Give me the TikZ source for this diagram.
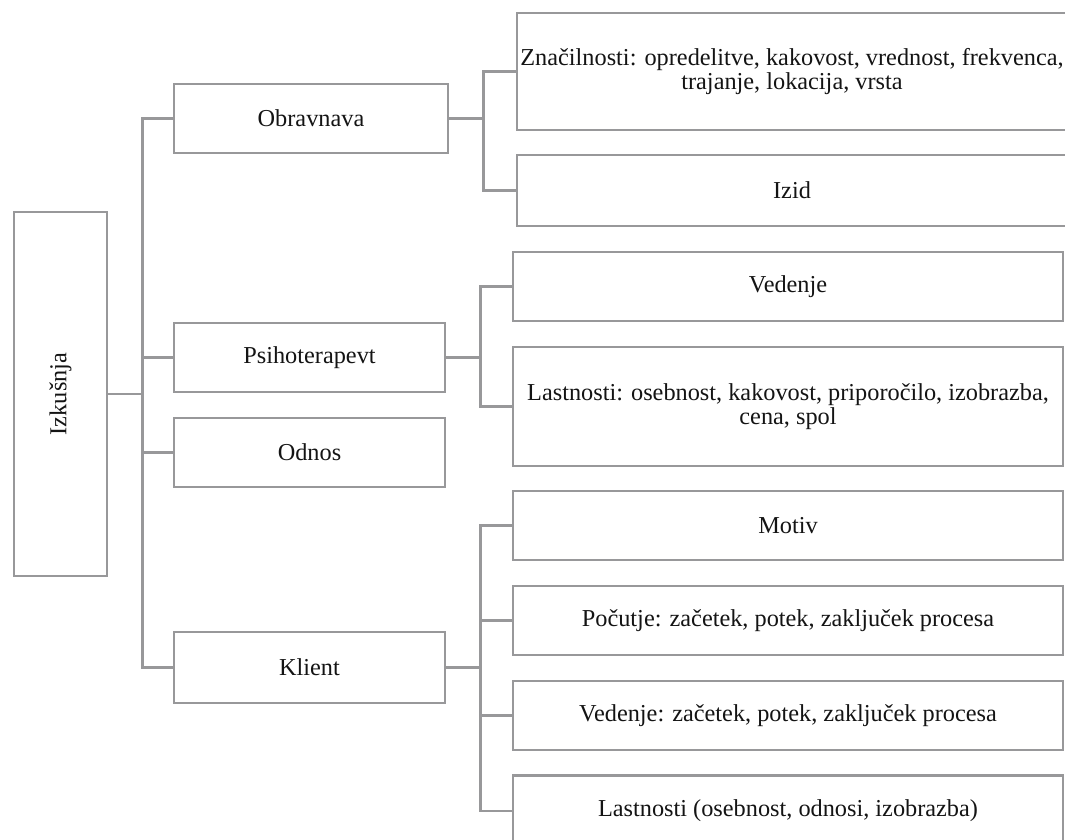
\documentclass[tikz,border=0pt]{standalone}
\usepackage{fontspec}
\usepackage{graphicx}
\setmainfont{Liberation Serif}
\definecolor{linegray}{RGB}{152,152,154}
\definecolor{inkblack}{RGB}{20,20,20}
\begin{document}
\begin{tikzpicture}[x=1pt,y=-1pt,
  box/.style={draw=linegray, line width=2.5pt, inner sep=0pt, align=center,
    text=inkblack, font=\fontsize{24.3}{24.5}\selectfont},
  link/.style={draw=linegray, line width=2.5pt}]
\useasboundingbox (0,0) rectangle (1065,839);
\fill[white] (0,0) rectangle (1065,839);
\clip (0,0) rectangle (1065,839);

% root
\node[box, minimum width=93pt, minimum height=364pt] (izk) at (60.5,394) {\rotatebox{90}{Izkušnja}};

% first level
\node[box, minimum width=274pt, minimum height=69pt] (obr) at (311,118.5) {Obravnava};
\node[box, minimum width=271pt, minimum height=69pt] (psi) at (309.5,357.5) {Psihoterapevt};
\node[box, minimum width=271pt, minimum height=69pt] (odn) at (309.5,452.5) {Odnos};
\node[box, minimum width=271pt, minimum height=71pt] (kli) at (309.5,667.5) {Klient};

% second level: Obravnava
\node[box, minimum width=550pt, minimum height=117pt] (zna) at (792,71.5)
  {Značilnosti: opredelitve, kakovost, vrednost, frekvenca,\\ trajanje, lokacija, vrsta};
\node[box, minimum width=550pt, minimum height=71pt] (izd) at (792,190.5) {Izid};

% second level: Psihoterapevt
\node[box, minimum width=550pt, minimum height=69pt] (ved) at (788,286.5) {Vedenje};
\node[box, minimum width=550pt, minimum height=119pt] (las) at (788,406.5)
  {Lastnosti: osebnost, kakovost, priporočilo, izobrazba,\\ cena, spol};

% second level: Klient
\node[box, minimum width=550pt, minimum height=69pt] (mot) at (788,525.5) {Motiv};
\node[box, minimum width=550pt, minimum height=69pt] (poc) at (788,620.5) {Počutje: začetek, potek, zaključek procesa};
\node[box, minimum width=550pt, minimum height=69pt] (vdn) at (788,715.5) {Vedenje: začetek, potek, zaključek procesa};
\node[box, minimum width=550pt, minimum height=71pt] (la2) at (788,811) {Lastnosti (osebnost, odnosi, izobrazba)};

% connectors
\foreach \c in {obr,psi,odn,kli}
  \draw[link] (izk.east) -- ++(34,0) |- (\c.west);
\foreach \c in {zna,izd}
  \draw[link] (obr.east) -- ++(34,0) |- (\c.west);
\foreach \c in {ved,las}
  \draw[link] (psi.east) -- ++(34,0) |- (\c.west);
\foreach \c in {mot,poc,vdn,la2}
  \draw[link] (kli.east) -- ++(34,0) |- (\c.west);
\end{tikzpicture}
\end{document}
